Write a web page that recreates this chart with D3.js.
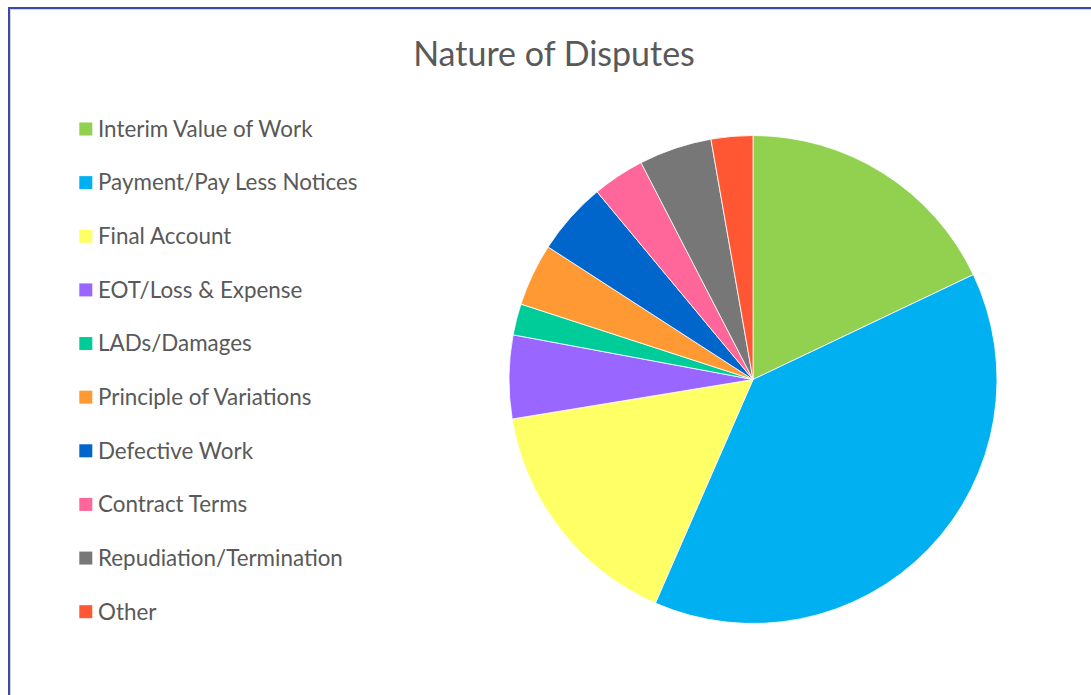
<!DOCTYPE html>
<html>
<head>
<meta charset="utf-8">
<script src="https://cdn.jsdelivr.net/npm/d3@7"></script>
<style>
  html, body { margin: 0; padding: 0; background: #fff; }
  svg { display: block; }
</style>
</head>
<body>
<svg id="chart" width="1091" height="695"></svg>
<script>
// Dispute categories and number of cases in each
const categories = [
  "Interim Value of Work",
  "Payment/Pay Less Notices",
  "Final Account",
  "EOT/Loss & Expense",
  "LADs/Damages",
  "Principle of Variations",
  "Defective Work",
  "Contract Terms",
  "Repudiation/Termination",
  "Other"
];
const counts = [26, 56, 23, 8, 3, 6, 7, 5, 7, 4];
const colors = [
  "#92D050", "#00B0F0", "#FFFF66", "#9966FF", "#00CC99",
  "#FF9933", "#0066CC", "#FF6699", "#777777", "#FF5733"
];
const title = "Nature of Disputes";

const data = categories.map((c, i) => ({ name: c, value: counts[i] }));

const svg = d3.select("#chart");
const W = 1091, H = 695;
const font = "Lato, 'Open Sans', sans-serif";
const textColor = "#595959";

// Frame around the chart area
svg.append("line").attr("x1", 10.5).attr("x2", W).attr("y1", 9.5).attr("y2", 9.5)
  .attr("stroke", "#d4d4d4").attr("stroke-width", 1);
svg.append("line").attr("x1", 10.5).attr("x2", 10.5).attr("y1", 9.5).attr("y2", H)
  .attr("stroke", "#d4d4d4").attr("stroke-width", 1);
svg.append("path")
  .attr("d", `M9,${H} V8 H${W}`)
  .attr("fill", "none").attr("stroke", "#3A4AA8").attr("stroke-width", 2);

// Title
svg.append("text")
  .attr("x", 554).attr("y", 66)
  .attr("text-anchor", "middle")
  .attr("font-family", font).attr("font-size", 34)
  .attr("fill", textColor)
  .text(title);

// Pie
const cx = 753, cy = 379.5, R = 244;
const color = d3.scaleOrdinal().domain(categories).range(colors);
const pie = d3.pie().sort(null).value(d => d.value);
const arc = d3.arc().innerRadius(0).outerRadius(R);

svg.append("g")
  .attr("transform", `translate(${cx},${cy})`)
  .selectAll("path")
  .data(pie(data))
  .join("path")
  .attr("d", arc)
  .attr("fill", d => color(d.data.name))
  .attr("stroke", "#fff")
  .attr("stroke-width", 0.8);

// Legend
const rowY = d3.scalePoint().domain(categories).range([129, 611.7]);
const legend = svg.append("g");
const rows = legend.selectAll("g")
  .data(categories)
  .join("g")
  .attr("transform", d => `translate(0,${rowY(d)})`);
rows.append("rect")
  .attr("x", 79.3).attr("y", -6.5)
  .attr("width", 13).attr("height", 13)
  .attr("fill", d => color(d));
rows.append("text")
  .attr("x", 98).attr("y", 0)
  .attr("dy", "0.35em")
  .attr("font-family", font).attr("font-size", 22.4)
  .attr("fill", textColor)
  .text(d => d);
</script>
</body>
</html>
